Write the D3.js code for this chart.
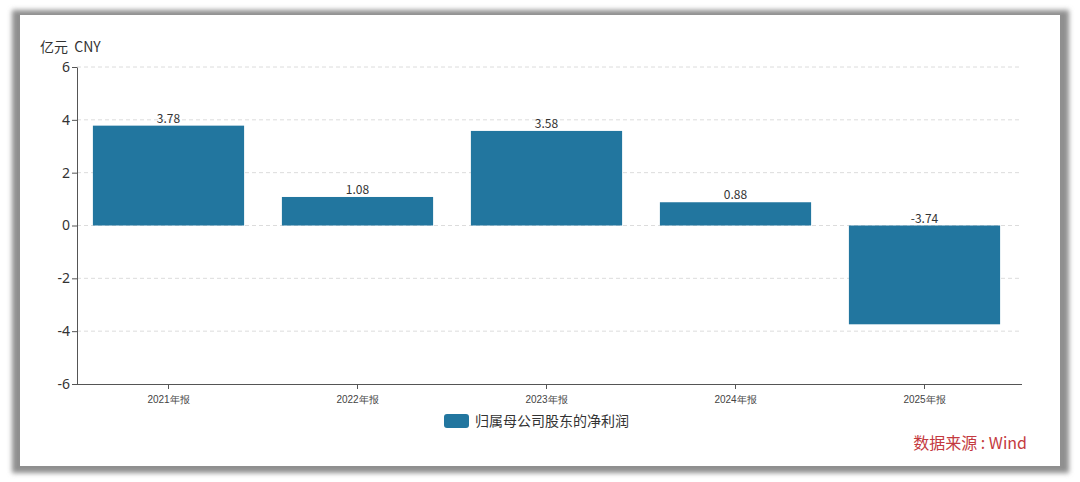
<!DOCTYPE html>
<html><head><meta charset="utf-8">
<script src="https://cdn.jsdelivr.net/npm/d3@7/dist/d3.min.js"></script>
<style>body{margin:0;background:#fff;}svg{display:block;font-family:"Noto Sans CJK SC","Noto Sans",sans-serif;}</style>
</head><body>
<svg id="c" width="1080" height="482"></svg>
<script>
const categories = ["2021年报","2022年报","2023年报","2024年报","2025年报"];
const values = [3.78, 1.08, 3.58, 0.88, -3.74];
const yTicks = [-6,-4,-2,0,2,4,6];
const seriesName = "归属母公司股东的净利润";

const svg = d3.select("#c");
const defs = svg.append("defs");
const f = defs.append("filter").attr("id","sh").attr("x","-5%").attr("y","-5%").attr("width","110%").attr("height","110%");
f.append("feGaussianBlur").attr("stdDeviation",2.5);

svg.append("rect").attr("x",12).attr("y",10).attr("width",1057).attr("height",463)
  .attr("fill","#8f8f8f").attr("filter","url(#sh)");
svg.append("rect").attr("x",20).attr("y",15).attr("width",1040).attr("height",451).attr("fill","#fff");

const pLeft = 77, pRight = 1022, pTop = 67, pBottom = 384;
const x = d3.scaleBand().domain(categories).range([pLeft - 3, pRight - 3]).paddingInner(0.2).paddingOuter(0.1);
const y = d3.scaleLinear().domain([-6, 6]).range([pBottom, pTop]);

// grid
svg.append("g").selectAll("line").data(yTicks.filter(d => d !== -6)).join("line")
  .attr("x1", pLeft).attr("x2", pRight).attr("y1", d => y(d)).attr("y2", d => y(d))
  .attr("stroke", "#dcdcdc").attr("stroke-dasharray", "4,3").attr("stroke-width", 1);

// bars
svg.append("g").selectAll("rect").data(values).join("rect")
  .attr("x", (d,i) => x(categories[i])).attr("width", x.bandwidth())
  .attr("y", d => y(Math.max(0,d))).attr("height", d => Math.abs(y(d) - y(0)))
  .attr("fill", "#22769f");

// labels
svg.append("g").selectAll("text").data(values).join("text")
  .attr("x", (d,i) => x(categories[i]) + x.bandwidth()/2)
  .attr("y", d => y(Math.max(0,d)) - 3)
  .attr("text-anchor","middle").attr("font-size",12).attr("fill","#333")
  .text(d => d.toFixed(2));

// y axis
const ya = svg.append("g").attr("transform",`translate(${pLeft},0)`)
  .call(d3.axisLeft(y).tickValues(yTicks).tickFormat(d => String(d)).tickSize(5).tickPadding(2).tickSizeOuter(0));
ya.select(".domain").attr("stroke","#555");
ya.selectAll(".tick line").attr("stroke","#555");
ya.selectAll(".tick text").attr("font-size",14).attr("fill","#333").style("font-family","'Noto Sans','Open Sans',sans-serif");

// x axis
const xa = svg.append("g").attr("transform",`translate(0,${pBottom})`)
  .call(d3.axisBottom(x).tickSize(5).tickSizeOuter(0).tickPadding(7));
xa.select(".domain").attr("stroke","#555").attr("d",`M${pLeft},0.5H${pRight}`);
xa.selectAll(".tick line").attr("stroke","#555");
xa.selectAll(".tick text").attr("font-size",10).attr("fill","#444");

// unit
svg.append("text").attr("x",40).attr("y",52).attr("font-size",14).attr("fill","#333").text("亿元\u00a0\u00a0CNY");

// legend
svg.append("rect").attr("x",444).attr("y",414).attr("width",25).attr("height",14).attr("rx",3).attr("fill","#22769f");
svg.append("text").attr("x",475).attr("y",426).attr("font-size",14).attr("fill","#333").text(seriesName);

// source
svg.append("text").attr("x",1027).attr("y",449).attr("text-anchor","end").attr("font-size",16).attr("fill","#c43a40").text("数据来源\u00a0:\u00a0Wind");
</script>
</body></html>
